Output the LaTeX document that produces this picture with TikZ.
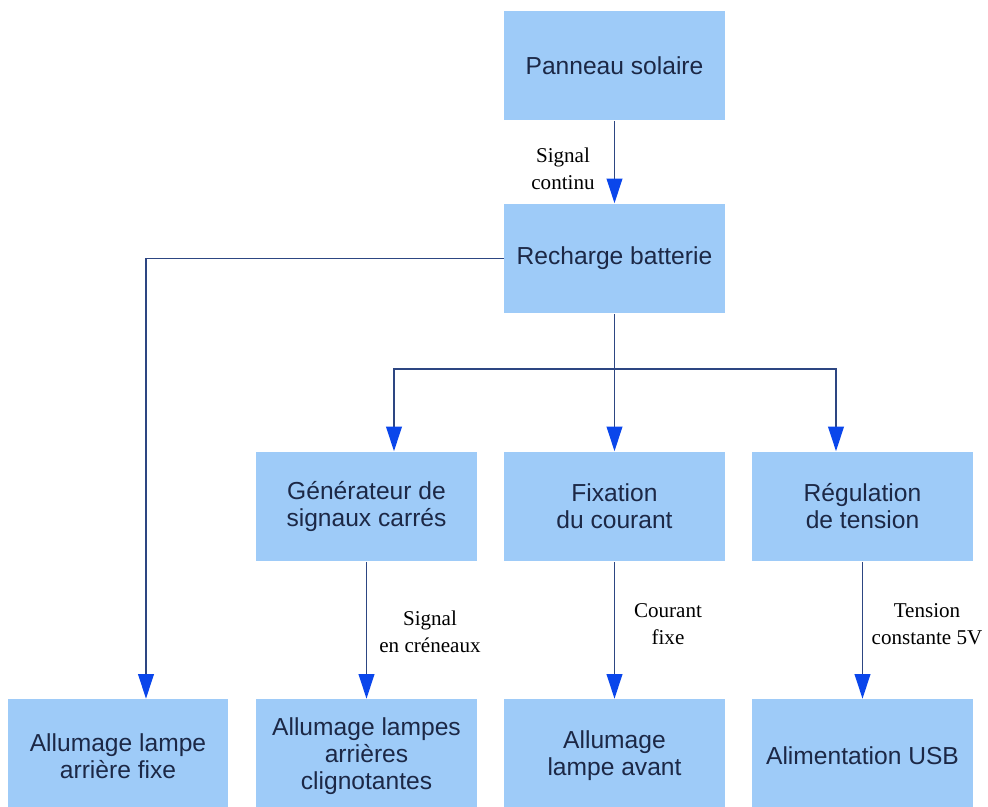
\documentclass[tikz,border=0pt]{standalone}
\usepackage{fontspec}
\setmainfont{Liberation Serif}
\setsansfont{Liberation Sans}
\usetikzlibrary{arrows.meta}
\definecolor{boxblue}{RGB}{158,203,248}
\definecolor{lineblue}{RGB}{45,70,130}
\definecolor{tipblue}{RGB}{10,70,235}
\definecolor{txt}{RGB}{28,40,70}

\begin{document}
\begin{tikzpicture}[x=.02cm,y=-.02cm,
        box/.style={fill=boxblue,minimum width=4.42cm,minimum height=2.2cm,inner sep=0pt,align=center,text=txt,font=\sffamily\fontsize{14}{15.4}\selectfont},
        fl/.style={draw=lineblue,line width=.8pt,-{Triangle[length=14pt,width=9pt,color=tipblue]}},
        lab/.style={align=center,font=\fontsize{12}{15.3}\selectfont}]
    \clip (0,0) rectangle (988,807);
    \node[box] (pan) at (614.5,65.5) {Panneau solaire};
    \node[box] (bat) at (614.5,258.5) {Recharge batterie};
    \node[box] (gen) at (366.5,506.5) {Générateur de\\signaux carrés};
    \node[box] (fix) at (614.5,506.5) {Fixation\\du courant};
    \node[box] (reg) at (862.5,506.5) {Régulation\\de tension};
    \node[box,minimum height=2.28cm] (arf) at (118,756) {Allumage lampe\\arrière fixe};
    \node[box,minimum height=2.28cm] (arc) at (366.5,756) {Allumage lampes\\arrières\\clignotantes};
    \node[box,minimum height=2.28cm] (av) at (614.5,756) {Allumage\\lampe avant};
    \node[box,minimum height=2.28cm] (usb) at (862.5,756) {Alimentation USB};
    \coordinate (br) at (614.5,369);
    \draw[fl] (pan) -- (bat);
    \draw[fl] (bat) -| ([xshift=.56cm]arf.north);
    \draw[fl] (bat) -- (fix);
    \draw[fl] (br) -| ([xshift=.55cm]gen.north);
    \draw[fl] (br) -| ([xshift=-.53cm]reg.north);
    \draw[fl] (gen) -- (arc);
    \draw[fl] (fix) -- (av);
    \draw[fl] (reg) -- (usb);
    \node[lab] (l1) at (563,169) {Signal\\continu};
    \node[lab] (l2) at (430,632) {Signal\\en créneaux};
    \node[lab] (l3) at (668,624) {Courant\\fixe};
    \node[lab] (l4) at (927,624) {Tension\\constante 5V};
\end{tikzpicture}
\end{document}
